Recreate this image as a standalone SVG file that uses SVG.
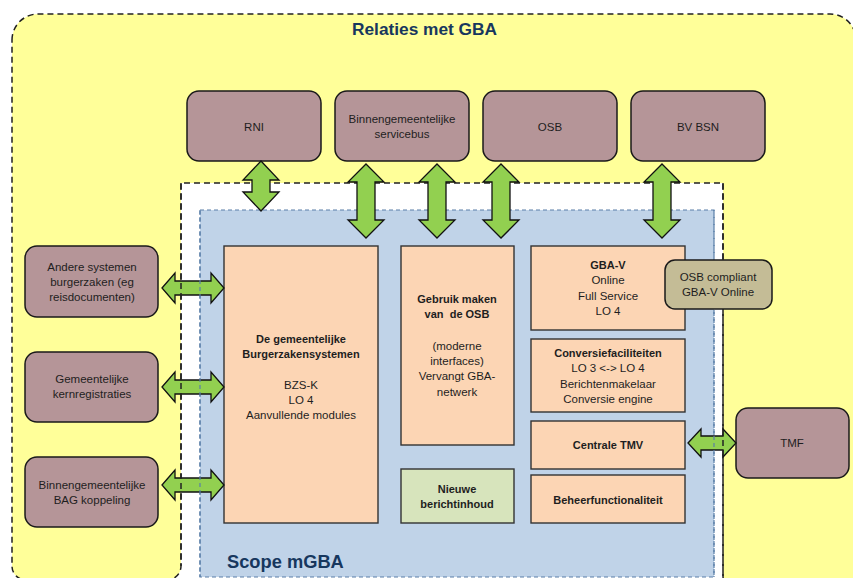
<svg xmlns="http://www.w3.org/2000/svg" width="853" height="578" viewBox="0 0 853 578">
<style>
text{font-family:"Liberation Sans",Arial,sans-serif;fill:#1e1e1e;text-anchor:middle;font-size:11.5px}
.b{font-weight:bold;font-size:11px}
.ext{fill:#B59598;stroke:#1a1a1a;stroke-width:1.5}
.sys{fill:#FCD5B4;stroke:#333;stroke-width:1.4}
.grn{fill:#D7E4BC;stroke:#333;stroke-width:1.4}
.kh{fill:#C4BC96;stroke:#1a1a1a;stroke-width:1.5}
.arr{fill:#92D050;stroke:#111;stroke-width:1.3;stroke-linejoin:miter}
.ttl{font-weight:bold;fill:#17375E;text-anchor:start}
.yb{stroke:#222;stroke-width:1.5;stroke-dasharray:6,4;fill:none}
.bb{stroke:#5A7FA8;stroke-width:1.2;stroke-dasharray:4,3;fill:none}
</style>
<rect width="853" height="578" fill="#fff"/>
<g id="regions">
<path class="yb" d="M12,40 A26,26 0 0 1 38,14 L830,14 A26,26 0 0 1 856,40 L856,590 L737,590 A14,14 0 0 1 723,576 L723,183 L181,183 L181,566 A14,14 0 0 1 167,580 L26,580 A14,14 0 0 1 12,566 Z" style="fill:#FFFF99"/>
<rect class="bb" x="200" y="210" width="514" height="367" style="fill:#C0D3E8"/>
<text class="ttl" x="352" y="35" style="font-size:17.3px">Relaties met GBA</text>
<text class="ttl" x="227" y="568" style="font-size:18.3px">Scope mGBA</text>
</g>
<g id="rni"><rect class="ext" x="187" y="91" width="134" height="70" rx="12"/><text x="254" y="131">RNI</text></g>
<g id="servicebus"><rect class="ext" x="335" y="91" width="134" height="70" rx="12"/><text x="402" y="123">Binnengemeentelijke</text><text x="402" y="138">servicebus</text></g>
<g id="osb"><rect class="ext" x="483" y="91" width="134" height="70" rx="12"/><text x="550" y="131">OSB</text></g>
<g id="bvbsn"><rect class="ext" x="631" y="91" width="134" height="70" rx="12"/><text x="698" y="131">BV BSN</text></g>
<g id="andere"><rect class="ext" x="25" y="246" width="133" height="71" rx="12"/><text x="92" y="271">Andere systemen</text><text x="92" y="286">burgerzaken (eg</text><text x="92" y="301">reisdocumenten)</text></g>
<g id="kernreg"><rect class="ext" x="25" y="352" width="133" height="70" rx="12"/><text x="92" y="383">Gemeentelijke</text><text x="92" y="398">kernregistraties</text></g>
<g id="bag"><rect class="ext" x="25" y="457" width="133" height="70" rx="12"/><text x="92" y="489">Binnengemeentelijke</text><text x="92" y="504">BAG koppeling</text></g>
<g id="tmf"><rect class="ext" x="736" y="408" width="113" height="70" rx="12"/><text x="792" y="447">TMF</text></g>
<g id="bzs"><rect class="sys" x="224" y="246" width="154" height="277"/><text class="b" x="301" y="343">De gemeentelijke</text><text class="b" x="301" y="358">Burgerzakensystemen</text><text x="301" y="389">BZS-K</text><text x="301" y="404">LO 4</text><text x="301" y="419">Aanvullende modules</text></g>
<g id="gebruik"><rect class="sys" x="401" y="246" width="113" height="199"/><text class="b" x="457" y="303">Gebruik maken</text><text class="b" x="457" y="318">van&#160; de OSB</text><text x="457" y="350">(moderne</text><text x="457" y="365">interfaces)</text><text x="457" y="380">Vervangt GBA-</text><text x="457" y="396">netwerk</text></g>
<g id="nieuwe"><rect class="grn" x="401" y="469" width="113" height="54"/><text class="b" x="457" y="493">Nieuwe</text><text class="b" x="457" y="508">berichtinhoud</text></g>
<g id="gbav"><rect class="sys" x="531" y="246" width="154" height="84"/><text class="b" x="608" y="269">GBA-V</text><text x="608" y="284">Online</text><text x="608" y="300">Full Service</text><text x="608" y="315">LO 4</text></g>
<g id="conversie"><rect class="sys" x="531" y="339" width="154" height="73"/><text class="b" x="608" y="357">Conversiefaciliteiten</text><text x="608" y="372">LO 3 &lt;-&gt; LO 4</text><text x="608" y="388">Berichtenmakelaar</text><text x="608" y="403">Conversie engine</text></g>
<g id="tmv"><rect class="sys" x="531" y="421" width="154" height="48"/><text class="b" x="608" y="449">Centrale TMV</text></g>
<g id="beheer"><rect class="sys" x="531" y="475" width="154" height="48"/><text class="b" x="608" y="504">Beheerfunctionaliteit</text></g>
<g id="osbcompliant"><rect class="kh" x="665" y="260" width="107" height="49" rx="10"/><text x="718" y="281">OSB compliant</text><text x="718" y="296">GBA-V Online</text></g>
<g id="connectors">
<polygon class="arr" points="261,161 279,180 270,180 270,192 279,192 261,211 243,192 252,192 252,180 243,180"/>
<polygon class="arr" points="366,164 384,182 375,182 375,220 384,220 366,238 348,220 357,220 357,182 348,182"/>
<polygon class="arr" points="437,164 455,182 446,182 446,220 455,220 437,238 419,220 428,220 428,182 419,182"/>
<polygon class="arr" points="501,164 519,182 510,182 510,220 519,220 501,238 483,220 492,220 492,182 483,182"/>
<polygon class="arr" points="662,164 680,182 671,182 671,220 680,220 662,238 644,220 653,220 653,182 644,182"/>
<polygon class="arr" points="162,288 175,273 175,281 211,281 211,273 224,288 211,303 211,295 175,295 175,303"/>
<polygon class="arr" points="162,387 175,372 175,380 211,380 211,372 224,387 211,402 211,394 175,394 175,402"/>
<polygon class="arr" points="162,485 175,470 175,478 211,478 211,470 224,485 211,500 211,492 175,492 175,500"/>
<polygon class="arr" points="688,443 701,429 701,436 723,436 723,429 736,443 723,457 723,450 701,450 701,457"/>
</g>
<g id="region-edges">
<path class="yb" d="M181,183 L181,566"/>
<path class="yb" d="M723,183 L723,259 M723,310 L723,576"/>
<path class="bb" d="M200,210 L200,577"/>
<path class="bb" d="M714,210 L714,259 M714,310 L714,577"/>
</g>
</svg>
